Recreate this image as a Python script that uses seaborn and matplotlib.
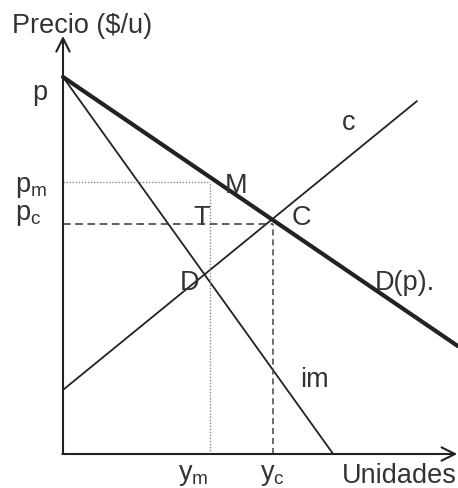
import matplotlib
matplotlib.use('Agg')
import numpy as np
import pandas as pd
import matplotlib.pyplot as plt
import seaborn as sns

# curves (quantity, price)
demand_q = [0.0, 10.0]
demand_p = [10.0, 2.86]
im_q = [0.0, 6.84]
im_p = [10.0, 0.0]
cost_q = [0.0, 8.96]
cost_p = [1.70, 9.36]

# equilibrium guides
y_m, p_m = 3.72, 7.21
y_c, p_c = 5.32, 6.10

sns.set_theme(style='white')
plt.rcParams['font.family'] = ['Liberation Sans', 'DejaVu Sans']
plt.rcParams['mathtext.fontset'] = 'custom'
plt.rcParams['mathtext.rm'] = 'Liberation Sans'

fig = plt.figure(figsize=(4.58, 4.89), dpi=100)
ax = fig.add_axes([0, 0, 1, 1])
ax.set_xlim(-63 / 39.5, 395 / 39.5)
ax.set_ylim(-34 / 37.7, 455 / 37.7)
ax.axis('off')

ink = '#222222'
txt = '#333333'

curves = pd.DataFrame({
    'q': demand_q + im_q + cost_q,
    'p': demand_p + im_p + cost_p,
    'curve': ['D'] * 2 + ['im'] * 2 + ['c'] * 2,
})
sns.lineplot(data=curves[curves.curve == 'D'], x='q', y='p', ax=ax,
             color=ink, lw=3.0, estimator=None, sort=False)
sns.lineplot(data=curves[curves.curve != 'D'], x='q', y='p', units='curve',
             ax=ax, color=ink, lw=1.3, estimator=None, sort=False)

# guide lines
ax.plot([0, y_m], [p_m, p_m], color='#888888', lw=1.0, ls=(0, (1, 1.2)))
ax.plot([y_m, y_m], [0, p_m], color='#888888', lw=1.0, ls=(0, (1, 1.2)))
ax.plot([0, y_c], [p_c, p_c], color='#333333', lw=1.1, ls=(0, (5, 3)))
ax.plot([y_c, y_c], [0, p_c], color='#444444', lw=1.1, ls=(0, (4, 2.5)))

# axes with open arrows
ax.annotate('', xy=(0, 11.09), xytext=(0, 0),
            arrowprops=dict(arrowstyle='->', color=ink, lw=1.5,
                            mutation_scale=24, shrinkA=0, shrinkB=0))
ax.annotate('', xy=(9.98, 0), xytext=(-0.02, 0),
            arrowprops=dict(arrowstyle='->', color=ink, lw=1.5,
                            mutation_scale=24, shrinkA=0, shrinkB=0))

fs = 19.5
def label(x, y, s):
    ax.text(x, y, s, fontsize=fs, color=txt, ha='left', va='baseline')

label(-1.29, 11.19, 'Precio ($/u)')
ax.text(9.97, -0.74, 'Unidades', fontsize=fs, color=txt, ha='right', va='baseline')
label(-0.79, 9.42, 'p')
label(-1.22, 6.98, r'$\mathrm{p_m}$')
label(-1.22, 6.23, r'$\mathrm{p_c}$')
label(2.91, -0.66, r'$\mathrm{y_m}$')
label(4.99, -0.66, r'$\mathrm{y_c}$')
label(6.0, 1.80, 'im')
label(7.06, 8.62, 'c')
label(7.90, 4.38, 'D(p).')
label(5.80, 6.10, 'C')
label(4.10, 6.95, 'M')
label(3.29, 6.10, 'T')
label(2.96, 4.38, 'D')

fig.savefig('out.png', dpi=100)
